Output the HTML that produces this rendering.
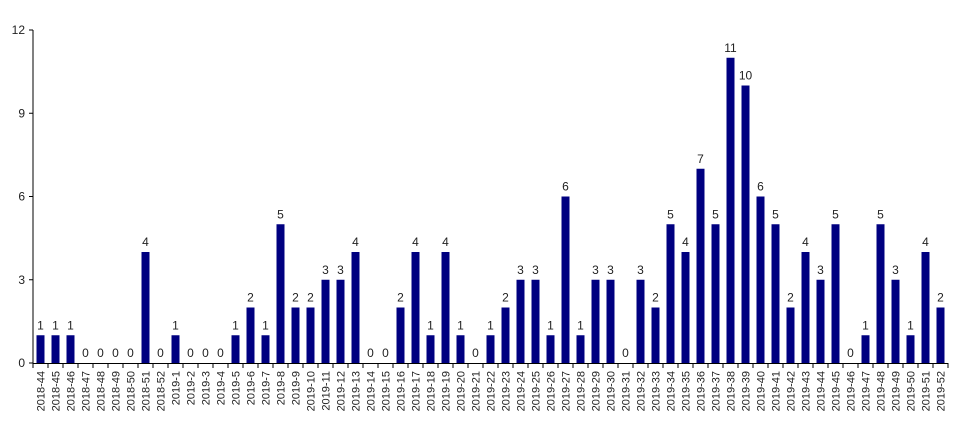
<!DOCTYPE html>
<html><head><meta charset="utf-8"><style>
body{margin:0;background:#fff;width:960px;height:424px;overflow:hidden}
text{font-family:"Liberation Sans",sans-serif;fill:#222}
</style></head><body>
<svg id="chart" width="960" height="424" xmlns="http://www.w3.org/2000/svg"></svg>
<script>
const categories=["2018-44","2018-45","2018-46","2018-47","2018-48","2018-49","2018-50","2018-51","2018-52"];
for(let i=1;i<=52;i++)categories.push("2019-"+i);
const values=[1,1,1,0,0,0,0,4,0,
1,0,0,0,1,2,1,5,2,2,3,3,4,0,0,2,4,1,4,1,0,1,2,3,3,1,6,1,3,3,0,3,2,5,4,7,5,11,10,6,5,2,4,3,5,0,1,5,3,1,4,2];
const yTicks=[0,3,6,9,12];
const svg=document.getElementById('chart');
const NS="http://www.w3.org/2000/svg";
const x0=33,x1=948,yb=363,yt=30,ymax=12;
const step=(x1-x0)/categories.length;
const xc=i=>x0+step*(i+0.5);
const y=v=>yb-(v/ymax)*(yb-yt);
function mk(tag,attrs){const e=document.createElementNS(NS,tag);for(const k in attrs)e.setAttribute(k,attrs[k]);svg.appendChild(e);return e;}
// axes
let ax=mk('line',{x1:x0,y1:yt,x2:x0,y2:yb,stroke:'#000','stroke-width':1});


let bx=mk('line',{x1:x0,y1:yb+0.5,x2:x1,y2:yb+0.5,stroke:'#000','stroke-width':1});


yTicks.forEach(t=>{
  const l=mk('line',{x1:x0-4,y1:y(t),x2:x0,y2:y(t),stroke:'#000'});
  
  
  const tx=mk('text',{x:x0-8,y:y(t)+4,'text-anchor':'end','font-size':12});
  tx.textContent=t;
  
  
});
for(let i=0;i<=categories.length;i++){
  const xx=x0+step*i;
  const l=mk('line',{x1:xx,y1:yb,x2:xx,y2:yb+5,stroke:'#000'});
  
  
}
categories.forEach((c,i)=>{
  const v=values[i];
  const b=mk('rect',{x:xc(i)-4,y:y(v),width:8,height:yb-y(v),fill:'#000080'});
  
  
  const lb=mk('text',{x:xc(i),y:y(v)-6,'text-anchor':'middle','font-size':12});
  lb.textContent=v;
  
  
  const cx=xc(i)+4,cy=yb+8;
  const tl=mk('text',{x:cx,y:cy,'text-anchor':'end','font-size':11,transform:`rotate(-90 ${cx} ${cy})`});
  tl.textContent=c;
  
  
});
</script>
</body></html>
